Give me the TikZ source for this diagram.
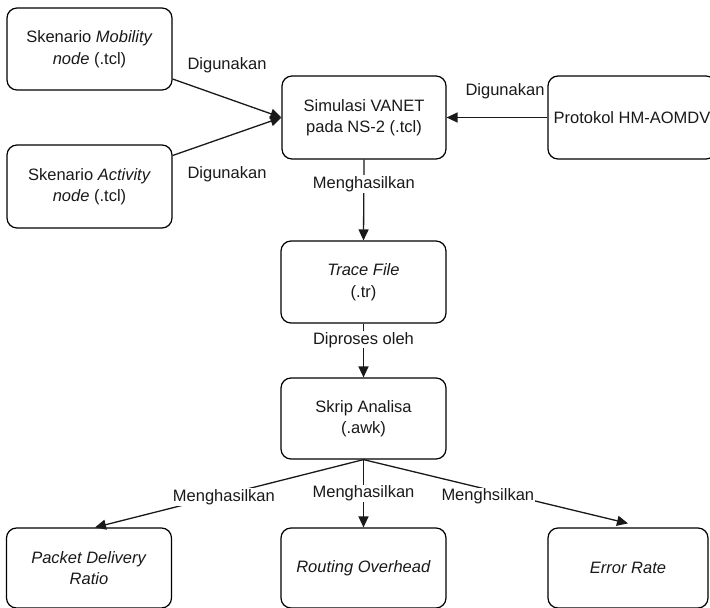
\documentclass[tikz,border=0pt]{standalone}
\usepackage{fontspec}
\setmainfont{Liberation Sans}
\usetikzlibrary{arrows.meta}
\begin{document}
\begin{tikzpicture}[x=1pt,y=-1pt,
  box/.style={draw=black, line width=1.2pt, rounded corners=10pt, align=center,
    minimum width=165pt, minimum height=82pt, inner sep=2pt,
    font=\fontsize{16.5}{21.5}\selectfont, text=black!90},
  conn/.style={draw=black!90, line width=1.3pt, -{Triangle[length=11pt,width=10pt]}},
  lbl/.style={fill=white, inner sep=1pt, font=\fontsize{16.5}{20}\selectfont, text=black!90}]
\useasboundingbox (0,0) rectangle (710,608);
\clip (0,0) rectangle (710,608);
\fill[white] (0,0) rectangle (710,608);
\node[box] (mob) at (89.5,49) {Skenario \textit{Mobility}\\\textit{node} (.tcl)};
\node[box, minimum height=83pt] (act) at (89.5,186.5) {Skenario \textit{Activity}\\\textit{node} (.tcl)};
\node[box, minimum width=164pt, minimum height=83pt] (sim) at (364,117.5) {Simulasi VANET\\pada NS-2 (.tcl)};
\node[box, minimum width=168pt, minimum height=83pt] (prot) at (632,117.5) {Protokol HM-AOMDV};
\node[box] (trace) at (363.5,282) {\textit{Trace File}\\(.tr)};
\node[box, minimum height=81pt] (skrip) at (363.5,418.5) {Skrip Analisa\\(.awk)};
\node[box, minimum height=80pt] (pdr) at (89,568) {\textit{Packet Delivery}\\\textit{Ratio}};
\node[box, minimum height=80pt] (rout) at (363.5,568) {\textit{Routing Overhead}};
\node[box, minimum width=160pt, minimum height=80pt] (err) at (628,568) {\textit{Error Rate}};

\draw[conn] ([yshift=-30pt]mob.east) -- (sim.west)
  node[lbl, pos=0.5, yshift=33pt, fill=none] {Digunakan};
\draw[conn] ([yshift=31pt]act.east) -- (sim.west)
  node[lbl, pos=0.5, yshift=-38pt, fill=none] {Digunakan};
\draw[conn] (prot.west) -- (sim.east)
  node[lbl, pos=0.5, xshift=8pt, yshift=26pt, fill=none] {Digunakan};
\draw[conn] (sim.south) -- (trace.north)
  node[lbl, pos=0.3] {Menghasilkan};
\draw[conn] (trace.south) -- (skrip.north)
  node[lbl, pos=0.3] {Diproses oleh};
\draw[conn] (skrip.south) -- ([xshift=6pt]pdr.north)
  node[lbl, pos=0.52, yshift=-2pt] {Menghasilkan};
\draw[conn] (skrip.south) -- (rout.north)
  node[lbl, pos=0.5] {Menghasilkan};
\draw[conn] (skrip.south) -- ([yshift=4pt]err.north)
  node[lbl, pos=0.47, yshift=-7pt] {Menghsilkan};
\end{tikzpicture}
\end{document}
